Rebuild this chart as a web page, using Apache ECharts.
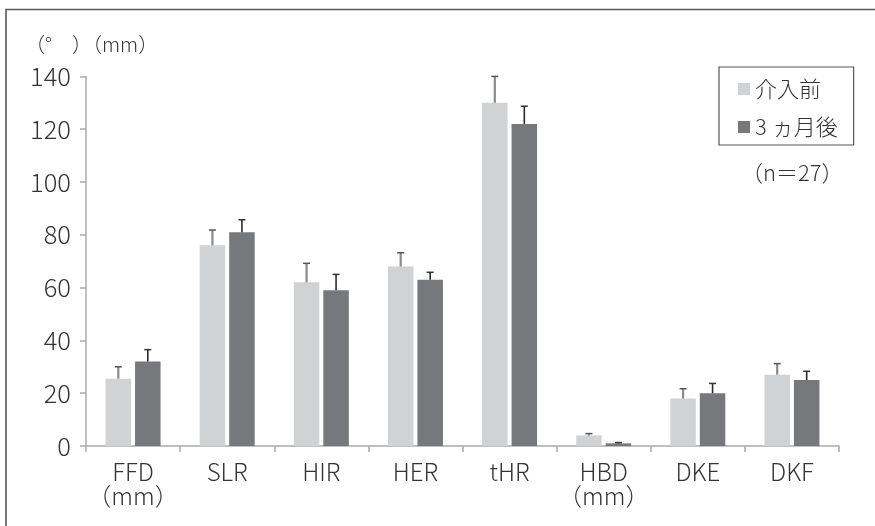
<!DOCTYPE html>
<html>
<head>
<meta charset="utf-8">
<script src="https://cdn.jsdelivr.net/npm/echarts@6/dist/echarts.min.js"></script>
<style>
  html, body { margin: 0; padding: 0; background: #fff; }
  #chart { width: 875px; height: 526px; }
</style>
</head>
<body>
<div id="chart"></div>
<script>
// Range-of-motion measures before intervention and after 3 months (mean + SD)
const categories = ['FFD\n（mm）', 'SLR', 'HIR', 'HER', 'tHR', 'HBD\n（mm）', 'DKE', 'DKF'];
const seriesNames = ['介入前', '3 ヵ月後'];
const beforeMean = [25.5, 76, 62, 68, 130, 4, 18, 27];
const beforeSD   = [4.5, 5.8, 7.2, 5.2, 10, 0.7, 3.7, 4.2];
const afterMean  = [32, 81, 59, 63, 122, 1, 20, 25];
const afterSD    = [4.5, 4.7, 6, 2.8, 6.7, 0.3, 3.7, 3.3];
const yTicks = [0, 20, 40, 60, 80, 100, 120, 140];

const FONT = '"Noto Sans CJK JP", "Noto Sans", sans-serif';
const WEIGHT = 300;
const TEXT = '#333';
const AXIS = '#ababab';
const LIGHT = '#d1d2d4';
const DARK = '#77787b';
const BAR_W = 25.5;
const BAR_GAP = 4;
const HALF_STEP = (BAR_W + BAR_GAP) / 2;

// Upper-only error bar with a small cap, shifted onto its bar
function errorBar(offset, lineColor, lineWidth, capColor) {
  return function (params, api) {
    const idx = api.value(0);
    const base = api.coord([idx, api.value(1)]);
    const top = api.coord([idx, api.value(1) + api.value(2)]);
    const x = base[0] + offset;
    return {
      type: 'group',
      children: [
        { type: 'line', shape: { x1: x, y1: base[1], x2: x, y2: top[1] },
          style: { stroke: lineColor, lineWidth: lineWidth } },
        { type: 'line', shape: { x1: x - 3.5, y1: top[1], x2: x + 3.5, y2: top[1] },
          style: { stroke: capColor, lineWidth: 1.5 } }
      ]
    };
  };
}

const chart = echarts.init(document.getElementById('chart'), null, { renderer: 'canvas' });

chart.setOption({
  backgroundColor: '#fff',
  animation: false,
  textStyle: { fontFamily: FONT, fontWeight: WEIGHT },
  grid: { left: 86, right: 36, top: 76.4, bottom: 80 },
  legend: {
    data: seriesNames,
    orient: 'vertical',
    left: 719,
    top: 67,
    icon: 'rect',
    itemWidth: 12,
    itemHeight: 12,
    itemGap: 16,
    padding: [11, 16, 7, 19],
    borderColor: '#555',
    borderWidth: 1.2,
    textStyle: { fontSize: 22, color: TEXT, lineHeight: 22, fontFamily: FONT, fontWeight: WEIGHT }
  },
  xAxis: {
    type: 'category',
    data: categories,
    axisLine: { lineStyle: { color: AXIS, width: 1.5 } },
    axisTick: { show: true, length: 6, lineStyle: { color: AXIS, width: 1.5 } },
    axisLabel: { interval: 0, color: TEXT, fontSize: 24, lineHeight: 23.7, margin: 14,
                 fontFamily: FONT, fontWeight: WEIGHT }
  },
  yAxis: {
    type: 'value',
    min: yTicks[0],
    max: yTicks[yTicks.length - 1],
    interval: 20,
    splitLine: { show: false },
    axisLine: { show: true, lineStyle: { color: AXIS, width: 1.5 } },
    axisTick: { show: true, length: 6, lineStyle: { color: AXIS, width: 1.5 } },
    axisLabel: { color: TEXT, fontSize: 25.5, margin: 15, fontFamily: FONT, fontWeight: WEIGHT }
  },
  series: [
    {
      name: seriesNames[0], type: 'bar', data: beforeMean,
      barWidth: BAR_W, barGap: (BAR_GAP / BAR_W * 100) + '%',
      itemStyle: { color: LIGHT }
    },
    {
      name: seriesNames[1], type: 'bar', data: afterMean,
      barWidth: BAR_W,
      itemStyle: { color: DARK }
    },
    {
      name: 'sd-before', type: 'custom', z: 5,
      renderItem: errorBar(-HALF_STEP, '#8a8a8a', 2.2, '#555'),
      data: beforeMean.map((v, i) => [i, v, beforeSD[i]])
    },
    {
      name: 'sd-after', type: 'custom', z: 5,
      renderItem: errorBar(HALF_STEP, '#2a2a2a', 1.6, '#333'),
      data: afterMean.map((v, i) => [i, v, afterSD[i]])
    }
  ],
  graphic: [
    { type: 'polyline', silent: true,
      shape: { points: [[6, 526], [6, 9.5], [875, 9.5]] },
      style: { stroke: '#5a5a5a', lineWidth: 1.6, fill: null } },
    { type: 'text', left: 25, top: 34,
      style: { text: '（°　）（mm）', fontSize: 20, fill: TEXT, fontFamily: FONT, fontWeight: WEIGHT } },
    { type: 'text', left: 741, top: 162,
      style: { text: '（n＝27）', fontSize: 22, fill: TEXT, fontFamily: FONT, fontWeight: WEIGHT } }
  ]
});
</script>
</body>
</html>
